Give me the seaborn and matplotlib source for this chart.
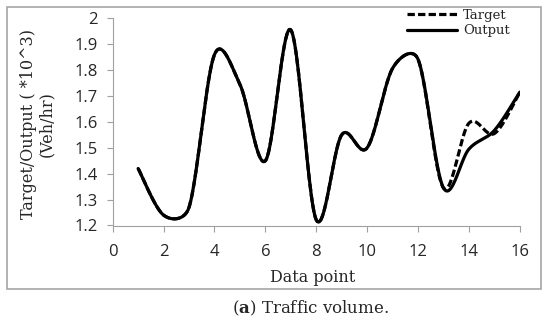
import numpy as np
import pandas as pd
import seaborn as sns
import matplotlib
matplotlib.use("Agg")
import matplotlib.pyplot as plt
from matplotlib.patches import Rectangle

# =========================
# DATA
# =========================
data_point = [1, 2, 3, 4, 5, 6, 7, 8, 9, 10, 11, 12, 13, 14, 15, 16]
target = [1.42, 1.24, 1.27, 1.86, 1.745, 1.45, 1.955, 1.222, 1.55, 1.50,
          1.807, 1.842, 1.345, 1.595, 1.555, 1.715]
output = [1.42, 1.24, 1.27, 1.86, 1.745, 1.45, 1.955, 1.222, 1.55, 1.50,
          1.807, 1.842, 1.345, 1.495, 1.567, 1.715]
x_ticks = [0, 2, 4, 6, 8, 10, 12, 14, 16]
y_ticks = [1.2, 1.3, 1.4, 1.5, 1.6, 1.7, 1.8, 1.9, 2]
y_tick_labels = ['1.2', '1.3', '1.4', '1.5', '1.6', '1.7', '1.8', '1.9', '2']

# pixel size of one data unit, so the smoothing works in screen space
SX, SY = 25.45, 259.0


# =========================
# EXCEL-STYLE SMOOTH LINE (bezier, handles clipped to half the chord)
# =========================
def smooth(xs, ys, n=40, k=0.5):
    p = np.column_stack([np.asarray(xs, float) * SX, np.asarray(ys, float) * SY])
    ext = np.vstack([p[0], p, p[-1]])
    tang = (ext[2:] - ext[:-2]) / 6.0
    t = np.linspace(0, 1, n, endpoint=False)[:, None]
    pts = []
    for i in range(len(p) - 1):
        chord = np.linalg.norm(p[i + 1] - p[i])
        h1, h2 = tang[i].copy(), tang[i + 1].copy()
        for h in (h1, h2):
            ln = np.linalg.norm(h)
            if ln > k * chord:
                h *= k * chord / ln
        c1 = p[i] + h1
        c2 = p[i + 1] - h2
        b = ((1 - t) ** 3 * p[i] + 3 * (1 - t) ** 2 * t * c1
             + 3 * (1 - t) * t ** 2 * c2 + t ** 3 * p[i + 1])
        pts.append(b)
    pts.append(p[-1:])
    pts = np.vstack(pts)
    return pts[:, 0] / SX, pts[:, 1] / SY


tx, ty = smooth(data_point, target)
ox, oy = smooth(data_point, output)
df_t = pd.DataFrame({'x': tx, 'y': ty})
df_o = pd.DataFrame({'x': ox, 'y': oy})

# =========================
# STYLE
# =========================
sns.set_style("white")
plt.rcParams['font.family'] = ['DejaVu Serif']
plt.rcParams['mathtext.fontset'] = 'dejavuserif'

fig = plt.figure(figsize=(5.5, 3.23), dpi=100)
ax = fig.add_axes([112.7 / 550, 1 - 225.5 / 323, 407.1 / 550, 207.2 / 323])

# =========================
# PLOT
# =========================
sns.lineplot(data=df_t, x='x', y='y', sort=False, ax=ax, color='black',
             lw=2.3, linestyle=(0, (2.3, 1.0)), label='Target')
sns.lineplot(data=df_o, x='x', y='y', sort=False, ax=ax, color='black',
             lw=2.3, label='Output')

ax.set_xlim(0, 16)
ax.set_ylim(1.2, 2.0)
ax.set_xticks(x_ticks)
ax.set_yticks(y_ticks)
ax.set_yticklabels(y_tick_labels)
ax.set_xticklabels([str(v) for v in x_ticks])

for lab in ax.get_xticklabels() + ax.get_yticklabels():
    lab.set_fontfamily('Open Sans')
    lab.set_fontsize(12)

ax.tick_params(axis='x', direction='out', length=4, width=0.8,
               color='#a0a0a0', pad=9, bottom=True)
ax.tick_params(axis='y', direction='out', length=4.5, width=0.8,
               color='#a0a0a0', pad=6, left=True)

sns.despine(ax=ax)
for side in ['left', 'bottom']:
    ax.spines[side].set_color('#a0a0a0')
    ax.spines[side].set_linewidth(0.8)

ax.set_xlabel('Data point', fontsize=11.5)
ax.xaxis.set_label_coords(0.49, -0.21)
ax.xaxis.label.set_va('top')
ax.set_ylabel('Target/Output ( *10^3)\n(Veh/hr)', fontsize=11.5,
              linespacing=1.05)
ax.yaxis.set_label_coords(-0.142, 0.49)

leg = ax.legend(loc='upper left', frameon=False, fontsize=9.5,
                handlelength=3.8, handletextpad=0.45, labelspacing=0.22,
                borderpad=0, borderaxespad=0,
                bbox_to_anchor=(406.7 / 550, 1 - 8.5 / 323),
                bbox_transform=fig.transFigure)

# outer frame + caption
fig.patches.append(Rectangle((7.3 / 550, 1 - 289 / 323), 533.4 / 550,
                             281.7 / 323, transform=fig.transFigure,
                             fill=False, edgecolor='#a6a6a6', lw=1.2))
fig.text(310 / 550, 1 - 308 / 323, r'($\mathbf{a}$) Traffic volume.',
         ha='center', va='center', fontsize=12)

plt.savefig('out.png', dpi=100)
